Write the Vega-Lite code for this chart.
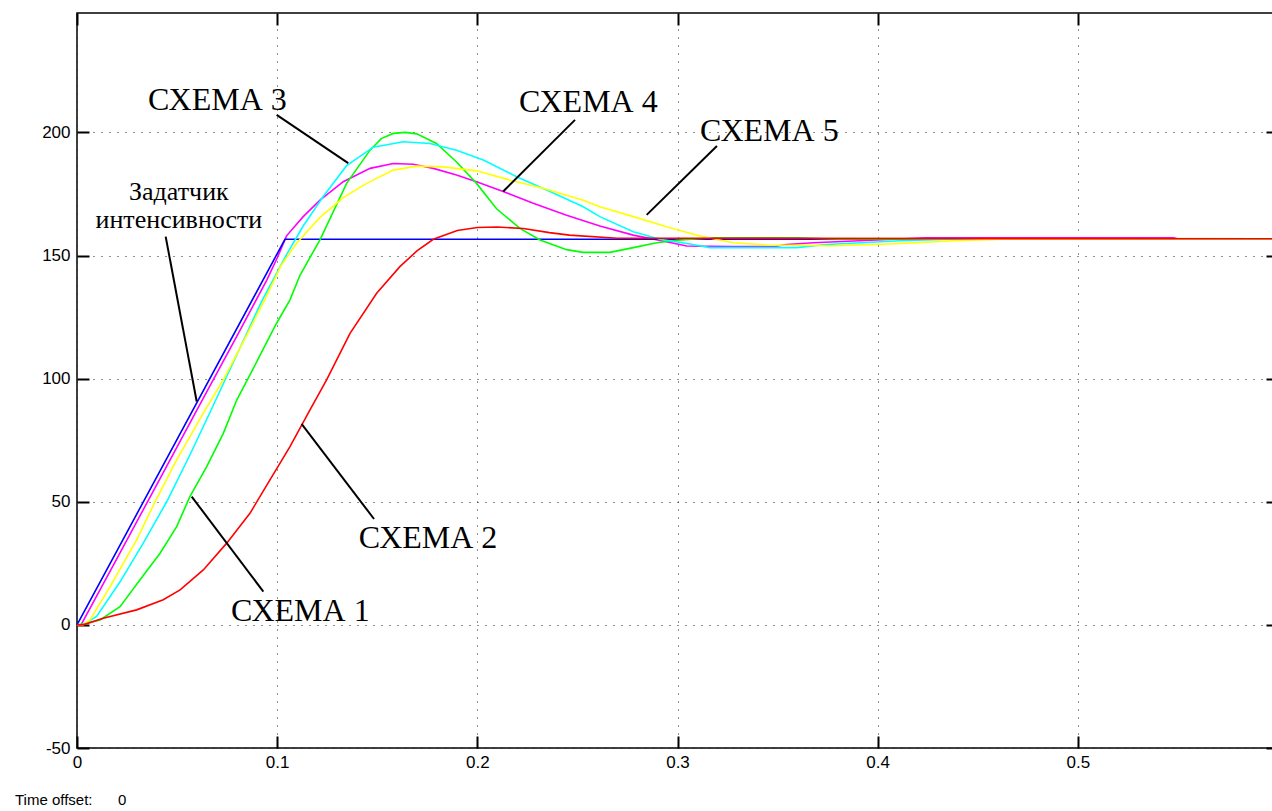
{
  "$schema": "https://vega.github.io/schema/vega-lite/v6.json",
  "width": 1201,
  "height": 735,
  "autosize": {"type": "none"},
  "padding": {"left": 77, "top": 13, "right": 0, "bottom": 63},
  "background": "white",
  "config": {"view": {"stroke": "black", "strokeWidth": 1.5}},
  "datasets": {
    "lines": [
      {"s": "СХЕМА 4", "t": 0, "v": 0}, {"s": "СХЕМА 4", "t": 0.002, "v": 0}, {"s": "СХЕМА 4", "t": 0.02, "v": 27}, {"s": "СХЕМА 4", "t": 0.04, "v": 57.2}, {"s": "СХЕМА 4", "t": 0.06, "v": 87.4}, {"s": "СХЕМА 4", "t": 0.08, "v": 117.5}, {"s": "СХЕМА 4", "t": 0.0948, "v": 140}, {"s": "СХЕМА 4", "t": 0.1, "v": 149}, {"s": "СХЕМА 4", "t": 0.1047, "v": 158}, {"s": "СХЕМА 4", "t": 0.113, "v": 165.8}, {"s": "СХЕМА 4", "t": 0.1214, "v": 172.5}, {"s": "СХЕМА 4", "t": 0.133, "v": 180}, {"s": "СХЕМА 4", "t": 0.1464, "v": 185.4}, {"s": "СХЕМА 4", "t": 0.158, "v": 187.4}, {"s": "СХЕМА 4", "t": 0.168, "v": 187.1}, {"s": "СХЕМА 4", "t": 0.178, "v": 185.4}, {"s": "СХЕМА 4", "t": 0.1896, "v": 182.7}, {"s": "СХЕМА 4", "t": 0.1996, "v": 180}, {"s": "СХЕМА 4", "t": 0.2129, "v": 176}, {"s": "СХЕМА 4", "t": 0.2279, "v": 171.2}, {"s": "СХЕМА 4", "t": 0.2446, "v": 166.4}, {"s": "СХЕМА 4", "t": 0.2612, "v": 162}, {"s": "СХЕМА 4", "t": 0.2779, "v": 158.3}, {"s": "СХЕМА 4", "t": 0.2945, "v": 155.6}, {"s": "СХЕМА 4", "t": 0.3046, "v": 153.9}, {"s": "СХЕМА 4", "t": 0.3278, "v": 153.6}, {"s": "СХЕМА 4", "t": 0.348, "v": 153.6}, {"s": "СХЕМА 4", "t": 0.3544, "v": 154.5}, {"s": "СХЕМА 4", "t": 0.3678, "v": 155.2}, {"s": "СХЕМА 4", "t": 0.3995, "v": 156.3}, {"s": "СХЕМА 4", "t": 0.4244, "v": 157.2}, {"s": "СХЕМА 4", "t": 0.548, "v": 157.2}, {"s": "СХЕМА 4", "t": 0.55, "v": 156.7}, {"s": "СХЕМА 4", "t": 0.6, "v": 156.7},
      {"s": "Задатчик", "t": 0, "v": 0}, {"s": "Задатчик", "t": 0.1039, "v": 156.6}, {"s": "Задатчик", "t": 0.6, "v": 156.6},
      {"s": "СХЕМА 1", "t": 0, "v": 0}, {"s": "СХЕМА 1", "t": 0.004, "v": 0.5}, {"s": "СХЕМА 1", "t": 0.0115, "v": 2}, {"s": "СХЕМА 1", "t": 0.0215, "v": 7.4}, {"s": "СХЕМА 1", "t": 0.0315, "v": 18.3}, {"s": "СХЕМА 1", "t": 0.0415, "v": 29.1}, {"s": "СХЕМА 1", "t": 0.0498, "v": 39.9}, {"s": "СХЕМА 1", "t": 0.0564, "v": 52.1}, {"s": "СХЕМА 1", "t": 0.0648, "v": 64.3}, {"s": "СХЕМА 1", "t": 0.0731, "v": 77.8}, {"s": "СХЕМА 1", "t": 0.0798, "v": 91.3}, {"s": "СХЕМА 1", "t": 0.0864, "v": 101.5}, {"s": "СХЕМА 1", "t": 0.0997, "v": 122.5}, {"s": "СХЕМА 1", "t": 0.1064, "v": 132}, {"s": "СХЕМА 1", "t": 0.1114, "v": 142}, {"s": "СХЕМА 1", "t": 0.1214, "v": 156.4}, {"s": "СХЕМА 1", "t": 0.1347, "v": 179.3}, {"s": "СХЕМА 1", "t": 0.1464, "v": 192.8}, {"s": "СХЕМА 1", "t": 0.152, "v": 197.5}, {"s": "СХЕМА 1", "t": 0.158, "v": 199.6}, {"s": "СХЕМА 1", "t": 0.164, "v": 200}, {"s": "СХЕМА 1", "t": 0.1697, "v": 199.4}, {"s": "СХЕМА 1", "t": 0.1796, "v": 195.5}, {"s": "СХЕМА 1", "t": 0.1896, "v": 188}, {"s": "СХЕМА 1", "t": 0.1996, "v": 179.3}, {"s": "СХЕМА 1", "t": 0.2096, "v": 169}, {"s": "СХЕМА 1", "t": 0.2213, "v": 161}, {"s": "СХЕМА 1", "t": 0.2313, "v": 156.3}, {"s": "СХЕМА 1", "t": 0.2446, "v": 152.4}, {"s": "СХЕМА 1", "t": 0.2529, "v": 151.3}, {"s": "СХЕМА 1", "t": 0.2662, "v": 151.3}, {"s": "СХЕМА 1", "t": 0.2779, "v": 153.2}, {"s": "СХЕМА 1", "t": 0.2896, "v": 155.2}, {"s": "СХЕМА 1", "t": 0.3, "v": 156.2}, {"s": "СХЕМА 1", "t": 0.318, "v": 157.2}, {"s": "СХЕМА 1", "t": 0.36, "v": 157.2}, {"s": "СХЕМА 1", "t": 0.38, "v": 156.6}, {"s": "СХЕМА 1", "t": 0.6, "v": 156.6},
      {"s": "СХЕМА 3", "t": 0, "v": 0}, {"s": "СХЕМА 3", "t": 0.003, "v": 0}, {"s": "СХЕМА 3", "t": 0.0098, "v": 3.4}, {"s": "СХЕМА 3", "t": 0.0215, "v": 17.5}, {"s": "СХЕМА 3", "t": 0.0331, "v": 33.2}, {"s": "СХЕМА 3", "t": 0.0448, "v": 50}, {"s": "СХЕМА 3", "t": 0.0564, "v": 69}, {"s": "СХЕМА 3", "t": 0.068, "v": 89}, {"s": "СХЕМА 3", "t": 0.08, "v": 110}, {"s": "СХЕМА 3", "t": 0.092, "v": 131}, {"s": "СХЕМА 3", "t": 0.1044, "v": 150}, {"s": "СХЕМА 3", "t": 0.113, "v": 162}, {"s": "СХЕМА 3", "t": 0.123, "v": 174}, {"s": "СХЕМА 3", "t": 0.1347, "v": 186.5}, {"s": "СХЕМА 3", "t": 0.148, "v": 194}, {"s": "СХЕМА 3", "t": 0.163, "v": 196.2}, {"s": "СХЕМА 3", "t": 0.1763, "v": 195.5}, {"s": "СХЕМА 3", "t": 0.1896, "v": 192.8}, {"s": "СХЕМА 3", "t": 0.203, "v": 188.8}, {"s": "СХЕМА 3", "t": 0.2196, "v": 182}, {"s": "СХЕМА 3", "t": 0.2363, "v": 176}, {"s": "СХЕМА 3", "t": 0.2529, "v": 169.8}, {"s": "СХЕМА 3", "t": 0.2612, "v": 165.8}, {"s": "СХЕМА 3", "t": 0.2779, "v": 159.7}, {"s": "СХЕМА 3", "t": 0.2912, "v": 156.6}, {"s": "СХЕМА 3", "t": 0.3062, "v": 154.7}, {"s": "СХЕМА 3", "t": 0.3162, "v": 153.2}, {"s": "СХЕМА 3", "t": 0.3595, "v": 153.2}, {"s": "СХЕМА 3", "t": 0.3745, "v": 154.5}, {"s": "СХЕМА 3", "t": 0.4111, "v": 156}, {"s": "СХЕМА 3", "t": 0.436, "v": 156.6}, {"s": "СХЕМА 3", "t": 0.6, "v": 156.7},
      {"s": "СХЕМА 5", "t": 0, "v": 0}, {"s": "СХЕМА 5", "t": 0.003, "v": 0}, {"s": "СХЕМА 5", "t": 0.0065, "v": 2}, {"s": "СХЕМА 5", "t": 0.0165, "v": 15.5}, {"s": "СХЕМА 5", "t": 0.0298, "v": 34.5}, {"s": "СХЕМА 5", "t": 0.039, "v": 50}, {"s": "СХЕМА 5", "t": 0.0498, "v": 67}, {"s": "СХЕМА 5", "t": 0.0631, "v": 86}, {"s": "СХЕМА 5", "t": 0.0734, "v": 100}, {"s": "СХЕМА 5", "t": 0.085, "v": 118}, {"s": "СХЕМА 5", "t": 0.095, "v": 134}, {"s": "СХЕМА 5", "t": 0.102, "v": 146}, {"s": "СХЕМА 5", "t": 0.1097, "v": 155}, {"s": "СХЕМА 5", "t": 0.1214, "v": 165.5}, {"s": "СХЕМА 5", "t": 0.133, "v": 173.5}, {"s": "СХЕМА 5", "t": 0.1447, "v": 179.3}, {"s": "СХЕМА 5", "t": 0.158, "v": 184.7}, {"s": "СХЕМА 5", "t": 0.1697, "v": 186.3}, {"s": "СХЕМА 5", "t": 0.183, "v": 186}, {"s": "СХЕМА 5", "t": 0.1996, "v": 184.4}, {"s": "СХЕМА 5", "t": 0.2163, "v": 180.6}, {"s": "СХЕМА 5", "t": 0.2329, "v": 177.3}, {"s": "СХЕМА 5", "t": 0.2529, "v": 172.5}, {"s": "СХЕМА 5", "t": 0.2612, "v": 169.8}, {"s": "СХЕМА 5", "t": 0.278, "v": 165.8}, {"s": "СХЕМА 5", "t": 0.2945, "v": 161.7}, {"s": "СХЕМА 5", "t": 0.3112, "v": 157.9}, {"s": "СХЕМА 5", "t": 0.3278, "v": 155.2}, {"s": "СХЕМА 5", "t": 0.3445, "v": 154.3}, {"s": "СХЕМА 5", "t": 0.3778, "v": 154}, {"s": "СХЕМА 5", "t": 0.3995, "v": 154.5}, {"s": "СХЕМА 5", "t": 0.4194, "v": 155.2}, {"s": "СХЕМА 5", "t": 0.4377, "v": 156}, {"s": "СХЕМА 5", "t": 0.461, "v": 156.6}, {"s": "СХЕМА 5", "t": 0.6, "v": 156.8},
      {"s": "СХЕМА 2", "t": 0, "v": 0}, {"s": "СХЕМА 2", "t": 0.003, "v": 0}, {"s": "СХЕМА 2", "t": 0.0131, "v": 2.7}, {"s": "СХЕМА 2", "t": 0.0298, "v": 6.1}, {"s": "СХЕМА 2", "t": 0.0431, "v": 10.2}, {"s": "СХЕМА 2", "t": 0.0515, "v": 14.2}, {"s": "СХЕМА 2", "t": 0.0631, "v": 22.3}, {"s": "СХЕМА 2", "t": 0.0748, "v": 33.2}, {"s": "СХЕМА 2", "t": 0.0864, "v": 45.3}, {"s": "СХЕМА 2", "t": 0.0964, "v": 58.9}, {"s": "СХЕМА 2", "t": 0.1064, "v": 72.4}, {"s": "СХЕМА 2", "t": 0.1164, "v": 87.3}, {"s": "СХЕМА 2", "t": 0.1247, "v": 99.5}, {"s": "СХЕМА 2", "t": 0.1364, "v": 118.4}, {"s": "СХЕМА 2", "t": 0.1497, "v": 134.7}, {"s": "СХЕМА 2", "t": 0.1613, "v": 145.5}, {"s": "СХЕМА 2", "t": 0.17, "v": 152}, {"s": "СХЕМА 2", "t": 0.178, "v": 156.6}, {"s": "СХЕМА 2", "t": 0.19, "v": 160.2}, {"s": "СХЕМА 2", "t": 0.2, "v": 161.4}, {"s": "СХЕМА 2", "t": 0.21, "v": 161.6}, {"s": "СХЕМА 2", "t": 0.223, "v": 161}, {"s": "СХЕМА 2", "t": 0.236, "v": 159.3}, {"s": "СХЕМА 2", "t": 0.246, "v": 158.3}, {"s": "СХЕМА 2", "t": 0.27, "v": 157}, {"s": "СХЕМА 2", "t": 0.6, "v": 156.8}
    ],
    "leaders": [
      {"t1": 0.09975, "v1": 207.1, "t2": 0.1355, "v2": 187.5},
      {"t1": 0.0443, "v1": 157.7, "t2": 0.0598, "v2": 90.7},
      {"t1": 0.2488, "v1": 205.1, "t2": 0.2129, "v2": 176.0},
      {"t1": 0.3197, "v1": 194.5, "t2": 0.2846, "v2": 166.5},
      {"t1": 0.1122, "v1": 81.6, "t2": 0.1484, "v2": 43.0},
      {"t1": 0.0573, "v1": 52.1, "t2": 0.0931, "v2": 13.5}
    ],
    "schemes": [
      {"label": "СХЕМА 3", "t": 0.0355, "v": 209.2},
      {"label": "СХЕМА 4", "t": 0.2208, "v": 208.3},
      {"label": "СХЕМА 5", "t": 0.3112, "v": 196.6},
      {"label": "СХЕМА 2", "t": 0.1407, "v": 31.1},
      {"label": "СХЕМА 1", "t": 0.0769, "v": 1.4}
    ],
    "ramp": [
      {"label": "Задатчик", "t": 0.0509, "v": 172.6},
      {"label": "интенсивности", "t": 0.0509, "v": 161.1}
    ],
    "footer": [
      {"label": "Time offset:", "t": -0.031, "v": -73.3},
      {"label": "0", "t": 0.0205, "v": -73.3}
    ]
  },
  "layer": [
    {
      "data": {"name": "lines"},
      "mark": {"type": "line", "strokeWidth": 1.6},
      "encoding": {
        "x": {"field": "t", "type": "quantitative", "scale": {"domain": [0, 0.6], "nice": false, "zero": false},
          "axis": {"orient": "bottom", "values": [0, 0.1, 0.2, 0.3, 0.4, 0.5], "labelExpr": "'' + datum.value", "title": null,
            "grid": true, "gridColor": "#222", "gridDash": [1, 7], "gridWidth": 1,
            "ticks": true, "tickSize": -12, "tickColor": "black", "tickWidth": 2, "domain": false,
            "labelPadding": 18, "labelFont": "Liberation Sans", "labelFontSize": 17, "labelColor": "black", "labelFlush": false}},
        "y": {"field": "v", "type": "quantitative", "scale": {"domain": [-50, 248.5], "nice": false, "zero": false},
          "axis": {"orient": "left", "values": [-50, 0, 50, 100, 150, 200], "labelExpr": "'' + datum.value", "title": null,
            "grid": true, "gridColor": "#222", "gridDash": [1, 7], "gridWidth": 1,
            "ticks": true, "tickSize": -12, "tickColor": "black", "tickWidth": 2, "domain": false,
            "labelPadding": 19, "labelFont": "Liberation Sans", "labelFontSize": 17, "labelColor": "black", "labelFlush": false}},
        "color": {"field": "s", "type": "nominal",
          "scale": {"domain": ["СХЕМА 4", "Задатчик", "СХЕМА 1", "СХЕМА 3", "СХЕМА 5", "СХЕМА 2"],
                    "range": ["#ff00ff", "#0000ff", "#00ff00", "#00ffff", "#ffff00", "#ff0000"]},
          "legend": null}
      }
    },
    {
      "data": {"name": "leaders"},
      "mark": {"type": "rule", "color": "black", "strokeWidth": 2},
      "encoding": {
        "x": {"field": "t1", "type": "quantitative",
          "axis": {"orient": "top", "values": [0, 0.1, 0.2, 0.3, 0.4, 0.5], "title": null, "labels": false, "grid": false,
            "ticks": true, "tickSize": -12, "tickColor": "black", "tickWidth": 2, "domain": false}},
        "y": {"field": "v1", "type": "quantitative",
          "axis": {"orient": "right", "values": [-50, 0, 50, 100, 150, 200], "title": null, "labels": false, "grid": false,
            "ticks": true, "tickSize": -12, "tickColor": "black", "tickWidth": 2, "domain": false}},
        "x2": {"field": "t2"},
        "y2": {"field": "v2"}
      }
    },
    {
      "data": {"name": "schemes"},
      "mark": {"type": "text", "font": "Liberation Serif", "fontSize": 32, "align": "left", "baseline": "alphabetic", "color": "black"},
      "encoding": {
        "x": {"field": "t", "type": "quantitative", "axis": null},
        "y": {"field": "v", "type": "quantitative", "axis": null},
        "text": {"field": "label"}
      }
    },
    {
      "data": {"name": "ramp"},
      "mark": {"type": "text", "font": "Liberation Serif", "fontSize": 26, "align": "center", "baseline": "alphabetic", "color": "black"},
      "encoding": {
        "x": {"field": "t", "type": "quantitative", "axis": null},
        "y": {"field": "v", "type": "quantitative", "axis": null},
        "text": {"field": "label"}
      }
    },
    {
      "data": {"name": "footer"},
      "mark": {"type": "text", "font": "Liberation Sans", "fontSize": 15, "align": "left", "baseline": "alphabetic", "color": "black"},
      "encoding": {
        "x": {"field": "t", "type": "quantitative", "axis": null},
        "y": {"field": "v", "type": "quantitative", "axis": null},
        "text": {"field": "label"}
      }
    }
  ],
  "resolve": {"axis": {"x": "independent", "y": "independent"}}
}
